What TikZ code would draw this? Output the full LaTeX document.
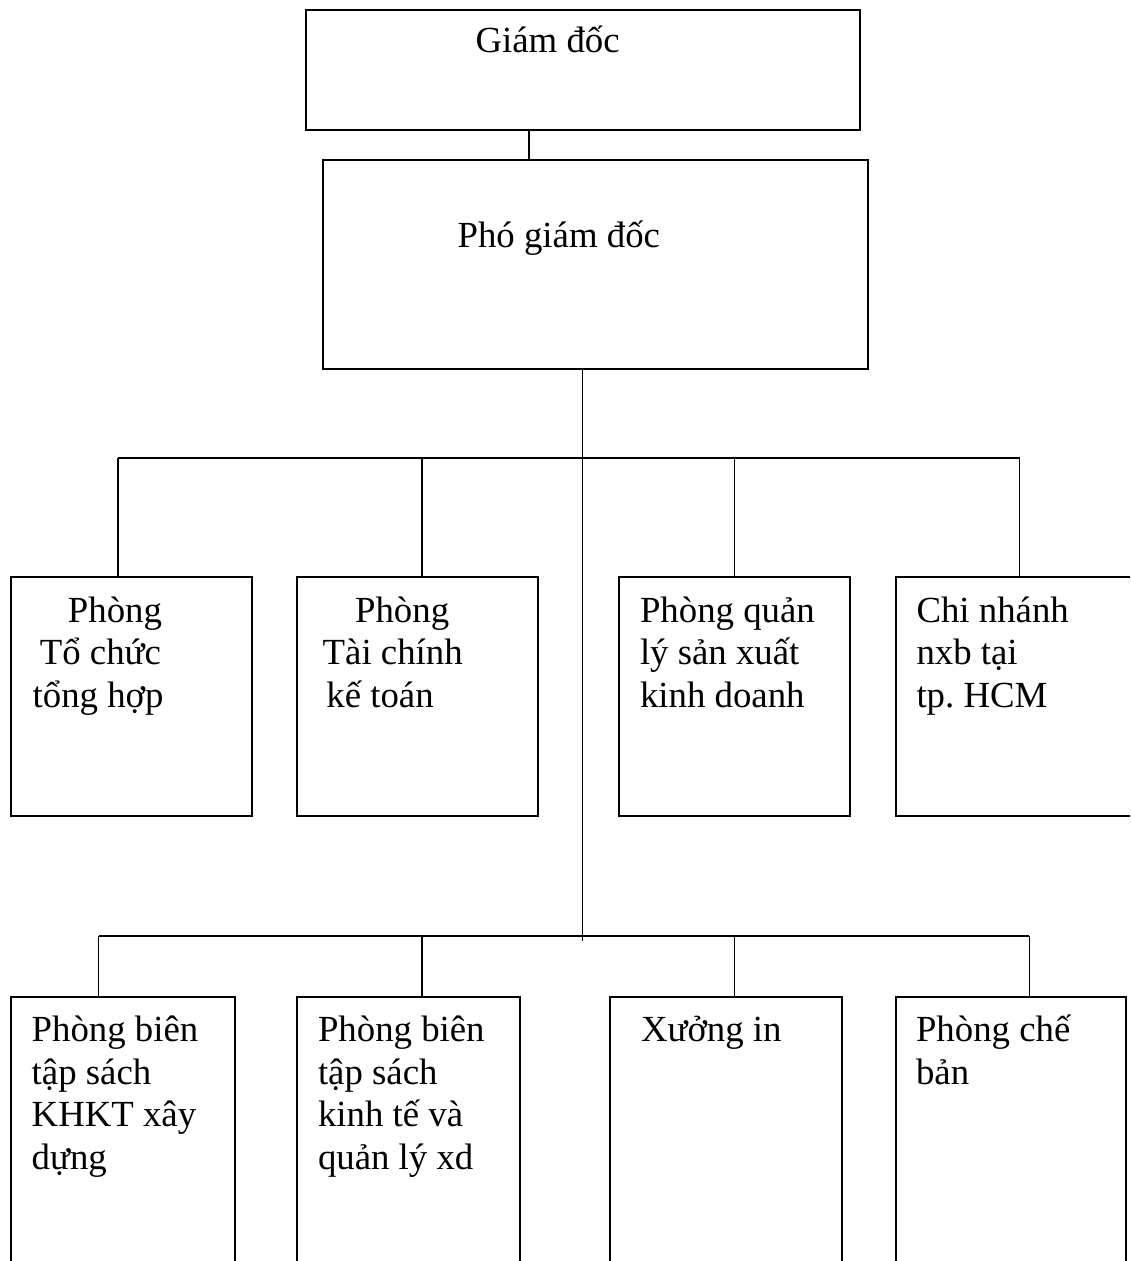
\documentclass[tikz,border=0pt]{standalone}
\usepackage{fontspec}
\setmainfont{Liberation Serif}
\frenchspacing
\begin{document}
\begin{tikzpicture}[x=0.5pt,y=-0.5pt,
  box/.style={draw,line width=1pt,inner sep=0pt,outer sep=0pt,anchor=north west},
  conn/.style={line width=0.65pt},
  txt/.style={anchor=base west,inner sep=0pt,outer sep=0pt,align=left,font=\fontsize{18.4}{21.3}\selectfont}]
\useasboundingbox (0,0) rectangle (1130,1261);
\clip (0,0) rectangle (1130,1261);
% boxes
\node[box,minimum width=277pt,minimum height=60pt] (G) at (306,10) {};
\node[box,minimum width=272.5pt,minimum height=104.5pt] (P) at (323,160) {};
\node[box,minimum width=120.5pt,minimum height=119.5pt] (r1a) at (11,577) {};
\node[box,minimum width=120.5pt,minimum height=119.5pt] (r1b) at (297,577) {};
\node[box,minimum width=115.5pt,minimum height=119.5pt] (r1c) at (619,577) {};
\node[box,minimum width=125pt,minimum height=119.5pt] (r1d) at (896,577) {};
\node[box,minimum width=111.75pt,minimum height=175pt] (r2a) at (11,997) {};
\node[box,minimum width=111.5pt,minimum height=175pt] (r2b) at (297,997) {};
\node[box,minimum width=116.25pt,minimum height=175pt] (r2c) at (609.5,997) {};
\node[box,minimum width=115pt,minimum height=175pt] (r2d) at (896,997) {};
% texts (anchor = baseline of the last line)
\node[txt] (tG) at (475.6,53) {Giám đốc};
\node[txt] (tP) at (457.6,248) {Phó giám đốc};
\node[txt] (t1a) at (32.7,707.5) {\hspace*{17.6pt}Phòng\\\hspace*{3.6pt}Tổ chức\\tổng hợp};
\node[txt] (t1b) at (322.7,707.5) {\hspace*{16.2pt}Phòng\\Tài chính\\\hspace*{1.85pt}kế toán};
\node[txt] (t1c) at (640,707.5) {Phòng quản\\lý sản xuất\\kinh doanh};
\node[txt] (t1d) at (916.5,707.5) {Chi nhánh\\nxb tại\\tp. HCM};
\node[txt] (t2a) at (31.7,1169.5) {Phòng biên\\tập sách\\KHKT xây\\dựng};
\node[txt] (t2b) at (318,1169.5) {Phòng biên\\tập sách\\kinh tế và\\quản lý xd};
\node[txt] (t2c) at (641,1041.7) {Xưởng in};
\node[txt] (t2d) at (916,1084.3) {Phòng chế\\bản};
% connector points
\coordinate (c529) at (529,0);
\coordinate (c582) at (582.5,0);
\coordinate (tend) at (582.5,941);
\coordinate (d1) at (118,458);
\coordinate (d2) at (422,458);
\coordinate (d3) at (734.5,458);
\coordinate (d4) at (1019.5,458);
\coordinate (e1) at (98.7,936);
\coordinate (e2) at (422,936);
\coordinate (e3) at (734.5,936);
\coordinate (e4) at (1029.3,936);
% connectors
\draw[conn] (G.south -| c529) -- (P.north -| c529);
\draw[conn] (P.south -| c582) -- (tend);
\draw[conn] (d1) -- (d4);
\draw[conn] (d1) -- (d1 |- r1a.north);
\draw[conn] (d2) -- (d2 |- r1b.north);
\draw[conn] (d3) -- (d3 |- r1c.north);
\draw[conn] (d4) -- (d4 |- r1d.north);
\draw[conn] (e1) -- (e4);
\draw[conn] (e1) -- (e1 |- r2a.north);
\draw[conn] (e2) -- (e2 |- r2b.north);
\draw[conn] (e3) -- (e3 |- r2c.north);
\draw[conn] (e4) -- (e4 |- r2d.north);
\end{tikzpicture}
\end{document}
